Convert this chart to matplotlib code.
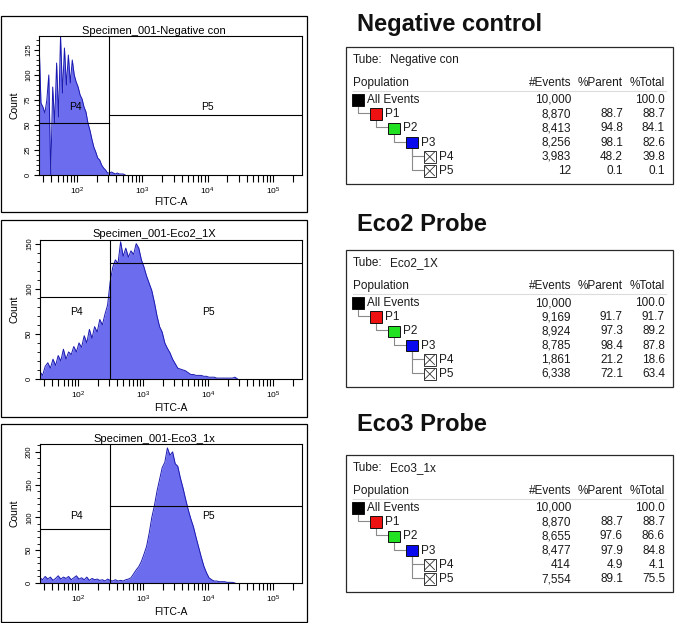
import numpy as np
import matplotlib
matplotlib.use("Agg")
import matplotlib.pyplot as plt
from matplotlib.patches import Rectangle
from matplotlib.ticker import FixedLocator, FuncFormatter, LogLocator, MultipleLocator, NullFormatter

# ---------------- data ----------------
headings = ["Negative control", "Eco2 Probe", "Eco3 Probe"]
specimen_titles = ["Specimen_001-Negative con", "Specimen_001-Eco2_1X", "Specimen_001-Eco3_1x"]
tube_names = ["Negative con", "Eco2_1X", "Eco3_1x"]
populations = ["All Events", "P1", "P2", "P3", "P4", "P5"]
pop_levels = [0, 1, 2, 3, 4, 4]
pop_parents = [None, 0, 1, 2, 3, 3]
col_headers = ["#Events", "%Parent", "%Total"]

neg_events = [10000, 8870, 8413, 8256, 3983, 12]
neg_parent = [None, 88.7, 94.8, 98.1, 48.2, 0.1]
neg_total = [100.0, 88.7, 84.1, 82.6, 39.8, 0.1]
eco2_events = [10000, 9169, 8924, 8785, 1861, 6338]
eco2_parent = [None, 91.7, 97.3, 98.4, 21.2, 72.1]
eco2_total = [100.0, 91.7, 89.2, 87.8, 18.6, 63.4]
eco3_events = [10000, 8870, 8655, 8477, 414, 7554]
eco3_parent = [None, 88.7, 97.6, 97.9, 4.9, 89.1]
eco3_total = [100.0, 88.7, 86.6, 84.8, 4.1, 75.5]

# histogram counts on log10(FITC-A) bins
neg_log_start, neg_log_step = 1.415, 0.03
neg_counts = [136, 72, 68, 62, 75, 100, 0, 88, 52, 112, 58, 139, 82, 127, 90,
              120, 92, 115, 100, 93, 88, 80, 76, 68, 63, 52, 45, 36, 28, 23,
              17, 15, 10, 7, 5, 2, 2, 3, 2, 1, 2, 1, 1, 1, 0]
eco2_log_start, eco2_log_step = 1.415, 0.04
eco2_counts = [8, 4, 14, 18, 12, 22, 15, 26, 20, 33, 22, 30, 27, 36, 30,
               40, 35, 48, 40, 55, 45, 58, 52, 66, 60, 72, 82, 108, 124, 132,
               128, 152, 136, 145, 135, 142, 138, 150, 145, 132, 124, 114, 106, 98, 85,
               70, 58, 52, 40, 34, 29, 22, 17, 12, 11, 10, 9, 7, 5, 5,
               4, 4, 4, 3, 3, 2, 2, 2, 1, 1, 1, 1, 1, 1, 1, 2, 0]
eco3_log_start, eco3_log_step = 1.415, 0.04
eco3_counts = [8, 5, 10, 6, 9, 4, 7, 11, 6, 9, 7, 10, 5, 8, 11,
               6, 8, 5, 9, 4, 7, 5, 6, 4, 5, 3, 6, 4, 3, 5,
               3, 4, 3, 5, 6, 8, 14, 20, 25, 33, 44, 56, 76, 100, 118,
               140, 158, 176, 184, 206, 195, 200, 182, 178, 160, 145, 128, 112, 98, 86,
               70, 55, 40, 26, 16, 8, 5, 3, 3, 2, 2, 2, 1, 1, 1, 0]

gate_split = [310, 310, 310]          # P4 | P5 boundary on FITC-A
p4_level = [52, 91, 82]               # gate bar heights (Count)
p5_level = [60, 129, 117]
gate_label_y = [68, 74, 102]
gate_label_x = [93, 10000]
count_max = [139, 154, 212]
count_major = [25, 50, 50]
count_minor = [5, 10, 10]
x_major = [1e2, 1e3, 1e4, 1e5]

# ---------------- layout ----------------
W, H = 676, 623
plt.rcParams['font.family'] = ['Liberation Sans', 'DejaVu Sans']
FILL = '#6c6cee'
EDGE = '#1a1ab0'

fig = plt.figure(figsize=(W / 100, H / 100), dpi=100)
ov = fig.add_axes([0, 0, 1, 1], zorder=0)
ov.set_xlim(0, W)
ov.set_ylim(H, 0)
ov.axis('off')


def add_px_axes(l, t, r, b):
    return fig.add_axes([l / W, 1 - b / H, (r - l) / W, (b - t) / H], zorder=2)


panel_boxes = [(1, 16, 307, 212), (1, 220, 307, 417), (1, 424, 307, 622)]
axes_boxes = [(39, 36, 302, 175), (40, 240, 302, 379), (40, 444, 302, 583)]
title_y = [30.5, 234, 438.5]
xlabel_y = [202, 408, 612]

hist_sets = [(neg_log_start, neg_log_step, neg_counts),
             (eco2_log_start, eco2_log_step, eco2_counts),
             (eco3_log_start, eco3_log_step, eco3_counts)]

for k in range(3):
    l, t, r, b = panel_boxes[k]
    ov.add_patch(Rectangle((l, t), r - l, b - t, fill=False, ec='black', lw=0.9))
    al, at, ar, ab = axes_boxes[k]
    ax = add_px_axes(al, at, ar, ab)
    start, step, counts = hist_sets[k]
    counts = np.asarray(counts, float)
    x = 10 ** (start + step * np.arange(len(counts)))
    ax.fill_between(x, 0, counts, color=FILL, lw=0, zorder=1)
    ax.plot(x, counts, color=EDGE, lw=0.7, zorder=2)
    ax.set_xscale('log')
    ax.set_xlim(10 ** 1.415, 10 ** 5.446)
    ax.set_ylim(0, count_max[k])
    x0, x1 = ax.get_xlim()
    ax.axvline(gate_split[k], color='black', lw=0.8, zorder=3)
    ax.plot([x0, gate_split[k]], [p4_level[k]] * 2, color='black', lw=0.8, zorder=3)
    ax.plot([gate_split[k], x1], [p5_level[k]] * 2, color='black', lw=0.8, zorder=3)
    ax.text(gate_label_x[0], gate_label_y[k], "P4", ha='center', va='center', fontsize=7.5, zorder=4)
    ax.text(gate_label_x[1], gate_label_y[k], "P5", ha='center', va='center', fontsize=7.5, zorder=4)

    ax.xaxis.set_major_locator(FixedLocator(x_major))
    ax.xaxis.set_major_formatter(FuncFormatter(lambda v, p: r'$\mathregular{10^{%d}}$' % round(np.log10(v))))
    ax.xaxis.set_minor_locator(LogLocator(base=10, subs=range(2, 10)))
    ax.xaxis.set_minor_formatter(NullFormatter())
    ax.tick_params(axis='x', which='both', direction='out', length=5, width=0.8,
                   labelsize=6, pad=3, colors='black')
    ax.yaxis.set_major_locator(MultipleLocator(count_major[k]))
    ax.yaxis.set_minor_locator(MultipleLocator(count_minor[k]))
    ax.tick_params(axis='y', which='major', direction='out', length=3.5, width=0.8,
                   labelsize=5.5, pad=1.5, labelrotation=90)
    ax.tick_params(axis='y', which='minor', direction='out', length=2.2, width=0.6)
    for lab in ax.get_yticklabels():
        lab.set_va('center')
    for s in ax.spines.values():
        s.set_linewidth(0.8)
        s.set_color('black')

    ov.text((l + r) / 2, title_y[k], specimen_titles[k], ha='center', va='center', fontsize=8)
    ov.text((al + ar) / 2, xlabel_y[k], "FITC-A", ha='center', va='center', fontsize=7.5)
    ov.text(15, (at + ab) / 2, "Count", ha='center', va='center', rotation=90, fontsize=7.5)

# ---------------- headings and tables ----------------
heading_y = [31, 231, 431]
table_tops = [47, 250, 455]
table_data = [(neg_events, neg_parent, neg_total),
              (eco2_events, eco2_parent, eco2_total),
              (eco3_events, eco3_parent, eco3_total)]
sq_colors = ['#000000', '#ee1111', '#22e022', '#0a0aee', None, None]
TXT = '#1a1a1a'
FS = 8.5

for k in range(3):
    ov.text(357, heading_y[k], headings[k], ha='left', va='baseline', fontsize=17,
            fontweight='bold', color='#111111')
    T = table_tops[k]
    L, R = 346, 673
    ov.add_patch(Rectangle((L, T), R - L, 136.5, fill=False, ec='#2a2a2a', lw=0.9))
    ov.text(L + 7, T + 13, "Tube:", ha='left', va='center', fontsize=FS, color=TXT)
    ov.text(L + 44, T + 13, tube_names[k], ha='left', va='center', fontsize=FS, color=TXT)
    ov.text(L + 7, T + 36, "Population", ha='left', va='center', fontsize=FS, color=TXT)
    col_right = [L + 225, L + 277, L + 319]
    for c, hdr in enumerate(col_headers):
        ov.text(col_right[c], T + 36, hdr, ha='right', va='center', fontsize=FS, color=TXT)
    ov.plot([L + 7, L + 320], [T + 43.5] * 2, color='#dcdcdc', lw=0.8)
    ev, par, tot = table_data[k]
    sq = 11.5
    row_y = [T + 53 + 14.2 * i for i in range(len(populations))]
    sq_left = [L + 6 + 18 * lv for lv in pop_levels]
    for i, name in enumerate(populations):
        y = row_y[i]
        sl = sq_left[i]
        if sq_colors[i] is not None:
            ov.add_patch(Rectangle((sl, y - sq / 2), sq, sq, fc=sq_colors[i], ec='#111111', lw=0.7))
        else:
            ov.add_patch(Rectangle((sl, y - sq / 2), sq, sq, fc='white', ec='#333333', lw=0.7))
            ov.plot([sl + 1, sl + sq - 1], [y - sq / 2 + 1, y + sq / 2 - 1], color='#333333', lw=0.6)
            ov.plot([sl + 1, sl + sq - 1], [y + sq / 2 - 1, y - sq / 2 + 1], color='#333333', lw=0.6)
        ov.text(sl + sq + 3.5, y, name, ha='left', va='center', fontsize=FS, color=TXT)
        p = pop_parents[i]
        if p is not None:
            vx = sq_left[p] + 5.5
            ov.plot([vx, vx, sl], [row_y[p] + sq / 2, y - 1, y - 1], color='#8a8a8a', lw=0.8, zorder=0)
        ov.text(col_right[0], y, f"{ev[i]:,}", ha='right', va='center', fontsize=FS, color=TXT)
        if par[i] is not None:
            ov.text(col_right[1], y, f"{par[i]:.1f}", ha='right', va='center', fontsize=FS, color=TXT)
        ov.text(col_right[2], y, f"{tot[i]:.1f}", ha='right', va='center', fontsize=FS, color=TXT)

fig.savefig("out.png", dpi=100)
